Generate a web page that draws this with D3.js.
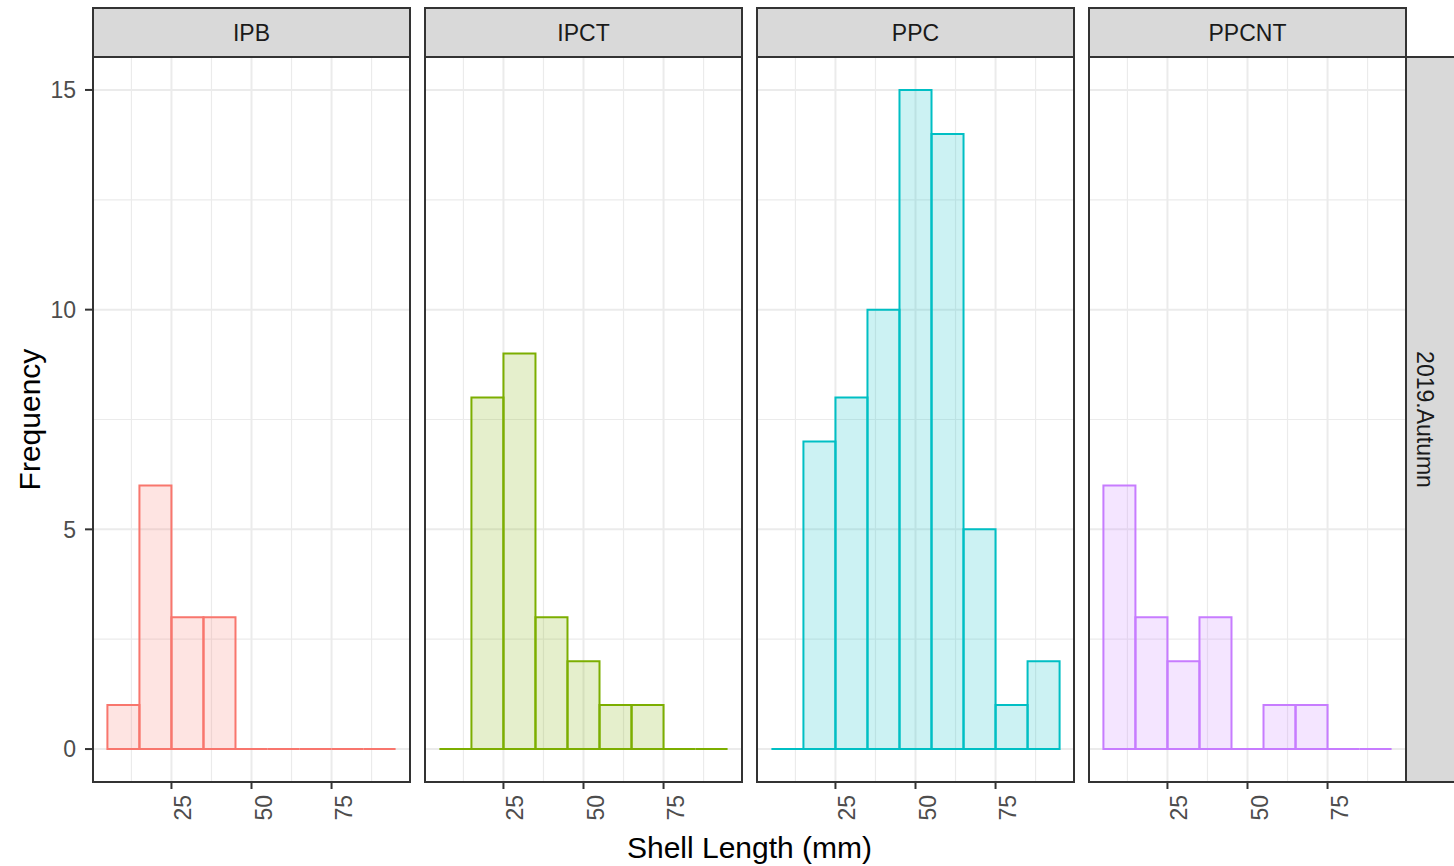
<!DOCTYPE html>
<html>
<head>
<meta charset="utf-8">
<script src="https://cdn.jsdelivr.net/npm/d3@7"></script>
<style>
    body { margin: 0; background: #fff; }
    text { font-family: "Liberation Sans", Arial, sans-serif; }
</style>
</head>
<body>
<svg id="chart"></svg>
<script>
// Data
const sites = ["IPB", "IPCT", "PPC", "PPCNT"];
const siteColors = ["#F8766D", "#7CAE00", "#00BFC4", "#C77CFF"];
const binStarts = [5, 15, 25, 35, 45, 55, 65, 75, 85];
const binWidth = 10;
const countsIPB = [1, 6, 3, 3, 0, 0, 0, 0, 0];
const countsIPCT = [0, 8, 9, 3, 2, 1, 1, 0, 0];
const countsPPC = [0, 7, 8, 10, 15, 14, 5, 1, 2];
const countsPPCNT = [6, 3, 2, 3, 0, 1, 1, 0, 0];
const xTicks = [25, 50, 75];
const xMinor = [12.5, 37.5, 62.5, 87.5];
const yTicks = [0, 5, 10, 15];
const yMinor = [2.5, 7.5, 12.5];
const rowLabel = "2019.Autumn";

const allCounts = [countsIPB, countsIPCT, countsPPC, countsPPCNT];

const W = 1454, H = 866;
const margin = { top: 57, left: 93 };
const panelW = 317, panelH = 725, gap = 15, stripH = 49;

const svg = d3.select("#chart").attr("width", W).attr("height", H);

// shared scales (ggplot adds 5% on each side)
const xLo = binStarts[0], xHi = binStarts[binStarts.length - 1] + binWidth;
const xPad = (xHi - xLo) * 0.05;
const x = d3.scaleLinear().domain([xLo - xPad, xHi + xPad]).range([0, panelW]);
const yMax = d3.max(allCounts.flat());
const y = d3.scaleLinear().domain([-yMax * 0.05, yMax * 1.05]).range([panelH, 0]);

const panelX = d3.scaleBand().domain(sites).range([margin.left, margin.left + 4 * panelW + 3 * gap]).paddingInner(gap / (panelW + gap));

sites.forEach((site, i) => {
    const g = svg.append("g").attr("transform", `translate(${panelX(site)},${margin.top})`);
    const col = siteColors[i];

    g.append("rect").attr("width", panelW).attr("height", panelH).attr("fill", "#fff");

    // grid
    g.selectAll(".minx").data(xMinor).join("line")
        .attr("x1", d => x(d)).attr("x2", d => x(d)).attr("y1", 0).attr("y2", panelH)
        .attr("stroke", "#EBEBEB").attr("stroke-width", 1.2);
    g.selectAll(".miny").data(yMinor).join("line")
        .attr("y1", d => y(d)).attr("y2", d => y(d)).attr("x1", 0).attr("x2", panelW)
        .attr("stroke", "#EBEBEB").attr("stroke-width", 1.2);
    g.selectAll(".majx").data(xTicks).join("line")
        .attr("x1", d => x(d)).attr("x2", d => x(d)).attr("y1", 0).attr("y2", panelH)
        .attr("stroke", "#EBEBEB").attr("stroke-width", 2);
    g.selectAll(".majy").data(yTicks).join("line")
        .attr("y1", d => y(d)).attr("y2", d => y(d)).attr("x1", 0).attr("x2", panelW)
        .attr("stroke", "#EBEBEB").attr("stroke-width", 2);

    // bars (paths so that empty bins still show as a flat line)
    const bins = binStarts.map((b, j) => ({ x0: b, x1: b + binWidth, n: allCounts[i][j] }));
    g.selectAll(".bar").data(bins).join("path")
        .attr("d", d => `M${x(d.x0)},${y(0)}V${y(d.n)}H${x(d.x1)}V${y(0)}Z`)
        .attr("fill", col).attr("fill-opacity", 0.2)
        .attr("stroke", col).attr("stroke-width", 2);

    // panel border
    g.append("rect").attr("width", panelW).attr("height", panelH)
        .attr("fill", "none").attr("stroke", "#333").attr("stroke-width", 2);

    // strip
    g.append("rect").attr("y", -stripH).attr("width", panelW).attr("height", stripH)
        .attr("fill", "#D9D9D9").attr("stroke", "#333").attr("stroke-width", 2);
    g.append("text").attr("x", panelW / 2).attr("y", -stripH / 2).attr("dy", "0.36em")
        .attr("text-anchor", "middle").attr("font-size", 23).attr("fill", "#1A1A1A")
        .text(site);

    // x axis ticks + rotated labels
    const xa = g.append("g").attr("transform", `translate(0,${panelH})`);
    xa.selectAll("line").data(xTicks).join("line")
        .attr("x1", d => x(d)).attr("x2", d => x(d)).attr("y1", 0).attr("y2", 7)
        .attr("stroke", "#333").attr("stroke-width", 2);
    xa.selectAll("text").data(xTicks).join("text")
        .attr("transform", d => `translate(${x(d) + 20},13) rotate(-90)`)
        .attr("text-anchor", "end").attr("font-size", 23).attr("fill", "#4D4D4D")
        .text(d => d);

    // y axis on first panel
    if (i === 0) {
        const ya = g.append("g");
        ya.selectAll("line").data(yTicks).join("line")
            .attr("x1", -8).attr("x2", 0).attr("y1", d => y(d)).attr("y2", d => y(d))
            .attr("stroke", "#333").attr("stroke-width", 2);
        ya.selectAll("text").data(yTicks).join("text")
            .attr("x", -17).attr("y", d => y(d)).attr("dy", "0.36em")
            .attr("text-anchor", "end").attr("font-size", 23).attr("fill", "#4D4D4D")
            .text(d => d);
    }

    // row strip on last panel
    if (i === sites.length - 1) {
        g.append("rect").attr("x", panelW).attr("width", 60).attr("height", panelH)
            .attr("fill", "#D9D9D9").attr("stroke", "#333").attr("stroke-width", 2);
        g.append("text")
            .attr("transform", `translate(${panelW + 19},${panelH / 2}) rotate(90)`)
            .attr("dy", "0.36em").attr("text-anchor", "middle")
            .attr("font-size", 23).attr("fill", "#1A1A1A")
            .text(rowLabel);
    }
});

// axis titles
const plotMid = margin.left + (4 * panelW + 3 * gap) / 2;
svg.append("text").attr("x", plotMid).attr("y", 858)
    .attr("text-anchor", "middle").attr("font-size", 30).attr("fill", "#000")
    .text("Shell Length (mm)");
svg.append("text")
    .attr("transform", `translate(40,${margin.top + panelH / 2}) rotate(-90)`)
    .attr("text-anchor", "middle").attr("font-size", 30).attr("fill", "#000")
    .text("Frequency");
</script>
</body>
</html>
